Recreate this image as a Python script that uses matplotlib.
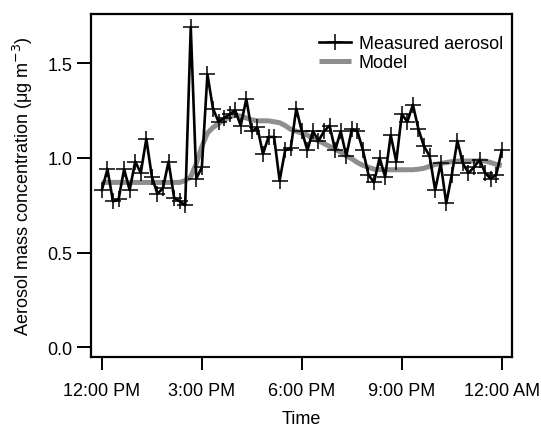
import numpy as np
import matplotlib.pyplot as plt

plt.rcParams['font.family'] = ['Liberation Sans', 'DejaVu Sans']

# 10-minute samples, hours after 12:00 PM
hours = np.arange(73) / 6.0

measured = [0.83, 0.94, 0.77, 0.78, 0.94, 0.83, 0.98, 0.92, 1.10, 0.90,
            0.81, 0.84, 0.98, 0.79, 0.77, 0.75, 1.69, 0.89, 0.95, 1.44,
            1.26, 1.19, 1.21, 1.23, 1.25, 1.17, 1.31, 1.14, 1.16, 1.02,
            1.11, 1.11, 0.88, 1.04, 1.05, 1.26, 1.14, 1.04, 1.14, 1.09,
            1.14, 1.17, 1.04, 1.14, 1.01, 1.15, 1.14, 1.04, 0.91, 0.87,
            1.00, 0.90, 1.12, 0.98, 1.23, 1.19, 1.28, 1.15, 1.06, 1.01,
            0.83, 0.97, 0.76, 0.91, 1.09, 0.97, 0.92, 0.95, 0.99, 0.92,
            0.89, 0.91, 1.04]

model = [0.87, 0.87, 0.87, 0.87, 0.87, 0.87, 0.87, 0.87, 0.87, 0.87,
         0.87, 0.87, 0.87, 0.87, 0.87, 0.88, 0.90, 0.97, 1.06, 1.13,
         1.16, 1.18, 1.20, 1.215, 1.225, 1.22, 1.21, 1.20, 1.195, 1.195,
         1.195, 1.19, 1.185, 1.17, 1.15, 1.14, 1.13, 1.12, 1.10, 1.09,
         1.075, 1.06, 1.045, 1.03, 1.01, 0.995, 0.975, 0.96, 0.95, 0.94,
         0.938, 0.937, 0.937, 0.937, 0.937, 0.937, 0.937, 0.94, 0.945, 0.955,
         0.965, 0.97, 0.975, 0.98, 0.983, 0.983, 0.983, 0.983, 0.983, 0.983,
         0.975, 0.965, 0.96]

tick_hours = [0, 3, 6, 9, 12]
tick_labels = ['12:00 PM', '3:00 PM', '6:00 PM', '9:00 PM', '12:00 AM']

fig = plt.figure(figsize=(5.41, 4.27), dpi=100)
ax = fig.add_axes([0.168, 0.1616, 0.778, 0.8034])

ln_model, = ax.plot(hours, model, color='#8e8e8e', lw=3.6, solid_capstyle='butt',
                    label='Model')
ln_meas, = ax.plot(hours, measured, color='black', lw=1.9, marker='+',
                   markersize=12, markeredgewidth=1.1, label='Measured aerosol')

ax.set_xlim(-0.33, 12.3)
ax.set_ylim(-0.051, 1.759)
ax.set_xticks(tick_hours)
ax.set_xticklabels(tick_labels)
ax.set_yticks([0.0, 0.5, 1.0, 1.5])
ax.set_yticklabels(['0.0', '0.5', '1.0', '1.5'])

for s in ax.spines.values():
    s.set_linewidth(1.6)
ax.tick_params(axis='both', direction='out', width=1.4, labelsize=13)
ax.tick_params(axis='x', length=9, pad=9)
ax.tick_params(axis='y', length=10, pad=3.5)

ax.set_xlabel('Time', fontsize=13, labelpad=8)
ax.set_ylabel('Aerosol mass concentration (μg m$^{-3}$)', fontsize=13, labelpad=9)

ax.legend([ln_meas, ln_model], ['Measured aerosol', 'Model'], loc='upper right',
          bbox_to_anchor=(1.018, 0.985), frameon=False, fontsize=13,
          handlelength=1.75, handletextpad=0.45, labelspacing=0.1)

fig.savefig('out.png', dpi=100)
